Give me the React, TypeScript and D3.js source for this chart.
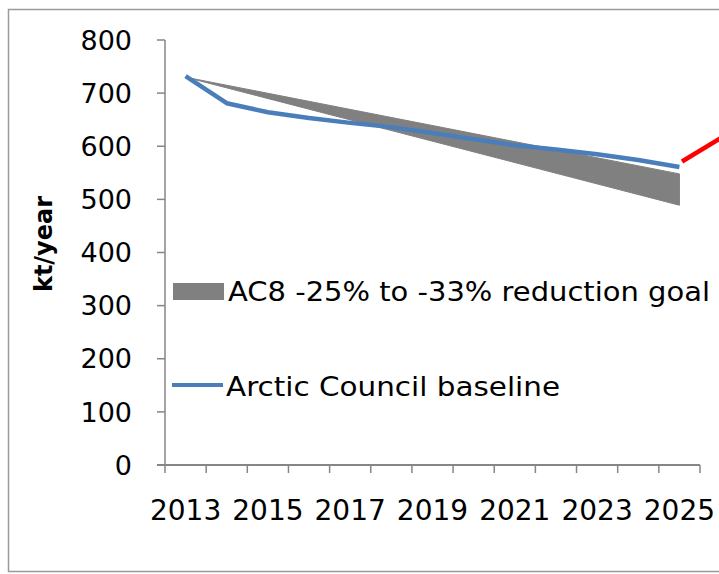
import React from "react";
import * as d3 from "d3";

const years = ["2013","2014","2015","2016","2017","2018","2019","2020","2021","2022","2023","2024","2025"];
const baseline = [732, 681, 664, 653, 644, 636, 625, 613, 602, 594, 585, 574, 561];
const goalYears = ["2013", "2025"];
const goalUpper = [730, 548];
const goalLower = [730, 489];
const yTicks = [0, 100, 200, 300, 400, 500, 600, 700, 800];
const xLabelYears = ["2013","2015","2017","2019","2021","2023","2025"];
const legendGoal = "AC8 -25% to -33% reduction goal";
const legendBase = "Arctic Council baseline";
const yTitle = "kt/year";

export default function App() {
  const W = 719, H = 574;
  const x = d3.scaleBand<string>().domain(years).range([165, 700]).padding(0);
  const cx = (d: string) => (x(d) as number) + x.bandwidth() / 2;
  const y = d3.scaleLinear().domain([0, 800]).range([465, 40]);

  const line = d3.line<number>().x((_, i) => cx(years[i])).y((d) => y(d));
  const area = d3
    .area<number>()
    .x((_, i) => cx(goalYears[i]))
    .y0((_, i) => y(goalLower[i]))
    .y1((d) => y(d));

  const font = "'DejaVu Sans', sans-serif";
  const boundaries = years.map((d) => x(d) as number).concat([700]);

  return (
    <svg width={W} height={H} style={{ position: "absolute", left: 0, top: 0, background: "#fff" }}>
      <rect x={8.5} y={9.5} width={740} height={562} fill="#fff" stroke="#9a9a9a" strokeWidth={1.5} />
      {/* goal area */}
      <path d={area(goalUpper) || ""} fill="#808080" stroke="#808080" strokeWidth={1} />
      {/* baseline */}
      <path d={line(baseline) || ""} fill="none" stroke="#4a7ebb" strokeWidth={4.5} strokeLinejoin="round" />
      {/* red annotation line */}
      <line x1={682} y1={161.5} x2={725} y2={135.5} stroke="#ff0000" strokeWidth={4.5} />
      {/* y axis */}
      <line x1={165} y1={40} x2={165} y2={465} stroke="#868686" strokeWidth={1.5} />
      {yTicks.map((t) => (
        <g key={t}>
          <line x1={157} x2={165} y1={y(t)} y2={y(t)} stroke="#868686" strokeWidth={1.5} />
          <text x={132} y={y(t)} dy="0.36em" textAnchor="end" fontFamily={font} fontSize={27} fill="#000">
            {t}
          </text>
        </g>
      ))}
      {/* x axis */}
      <line x1={157} x2={700} y1={465} y2={465} stroke="#868686" strokeWidth={2} />
      {boundaries.map((b, i) => (
        <line key={i} x1={b} x2={b} y1={465} y2={473} stroke="#868686" strokeWidth={1.5} />
      ))}
      {xLabelYears.map((d) => (
        <text key={d} x={cx(d)} y={520} textAnchor="middle" fontFamily={font} fontSize={28} fill="#000">
          {d}
        </text>
      ))}
      {/* y title */}
      <text
        transform={`translate(52,244) rotate(-90)`}
        textAnchor="middle"
        fontFamily={font}
        fontWeight="bold"
        fontSize={24}
        fill="#000"
      >
        {yTitle}
      </text>
      {/* legend */}
      <rect x={173} y={283} width={51} height={17} fill="#808080" />
      <text x={228} y={301} fontFamily={font} fontSize={26} fill="#000" textLength={482} lengthAdjust="spacingAndGlyphs">
        {legendGoal}
      </text>
      <line x1={172} x2={223} y1={385} y2={385} stroke="#4a7ebb" strokeWidth={4} />
      <text x={226} y={396} fontFamily={font} fontSize={26} fill="#000" textLength={334} lengthAdjust="spacingAndGlyphs">
        {legendBase}
      </text>
    </svg>
  );
}
